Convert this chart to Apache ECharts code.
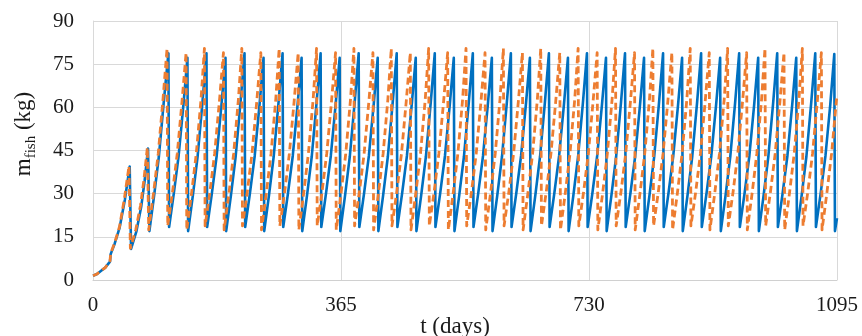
<!DOCTYPE html>
<html>
<head>
<meta charset="utf-8">
<script src="https://cdn.jsdelivr.net/npm/echarts@6/dist/echarts.min.js"></script>
<style>
html,body{margin:0;padding:0;background:#fff;}
#chart{width:862px;height:336px;}
</style>
</head>
<body>
<div id="chart"></div>
<script>
// x ticks (days) and y ticks (kg)
const xTicks = [0, 365, 730, 1095];
const yTicks = [0, 15, 30, 45, 60, 75, 90];

// blue solid series: [day, mass kg]
const blueSeries = [
  [0,1.5],[6,2.1],[12,3.2],[18,4.3],[25,6.4],[26,9.0],[32,12.7],[39,18.0],[47,28.0],[54,39.4],
  [56,10.8],[64,17.0],[71,25.5],[76,34.5],[81,45.7],
  [83,17.0],[90,29.4],[97,43.0],[104,61.5],[111,78.8],
  [112,18.4],[119,30.2],[126,43.1],[133,60.7],[139,77.2],
  [140,17.0],[147,29.4],[154,43.0],[161,61.5],[167,78.8],
  [168,18.4],[175,30.2],[182,43.1],[189,60.7],[195,77.2],
  [196,17.0],[203,29.4],[210,43.0],[217,61.5],[223,78.8],
  [224,18.4],[231,30.2],[238,43.1],[245,60.7],[251,77.2],
  [252,17.0],[259,29.4],[266,43.0],[273,61.5],[279,78.8],
  [280,18.4],[287,30.2],[294,43.1],[301,60.7],[307,77.2],
  [308,17.0],[315,29.4],[322,43.0],[329,61.5],[335,78.8],
  [336,18.4],[343,30.2],[350,43.1],[357,60.7],[363,77.2],
  [364,17.0],[371,29.4],[378,43.0],[385,61.5],[391,78.8],
  [392,18.4],[399,30.2],[406,43.1],[413,60.7],[419,77.2],
  [420,17.0],[427,29.4],[434,43.0],[441,61.5],[447,78.8],
  [448,18.4],[455,30.2],[462,43.1],[469,60.7],[475,77.2],
  [476,17.0],[483,29.4],[490,43.0],[497,61.5],[503,78.8],
  [504,18.4],[511,30.2],[518,43.1],[525,60.7],[531,77.2],
  [532,17.0],[539,29.4],[546,43.0],[553,61.5],[559,78.8],
  [560,18.4],[567,30.2],[574,43.1],[581,60.7],[587,77.2],
  [588,17.0],[595,29.4],[602,43.0],[609,61.5],[615,78.8],
  [616,18.4],[623,30.2],[630,43.1],[637,60.7],[643,77.2],
  [644,17.0],[651,29.4],[658,43.0],[665,61.5],[671,78.8],
  [672,18.4],[679,30.2],[686,43.1],[693,60.7],[699,77.2],
  [700,17.0],[707,29.4],[714,43.0],[721,61.5],[727,78.8],
  [728,18.4],[735,30.2],[742,43.1],[749,60.7],[755,77.2],
  [756,17.0],[763,29.4],[770,43.0],[777,61.5],[783,78.8],
  [784,18.4],[791,30.2],[798,43.1],[805,60.7],[811,77.2],
  [812,17.0],[819,29.4],[826,43.0],[833,61.5],[839,78.8],
  [840,18.4],[847,30.2],[854,43.1],[861,60.7],[867,77.2],
  [868,17.0],[875,29.4],[882,43.0],[889,61.5],[895,78.8],
  [896,18.4],[903,30.2],[910,43.1],[917,60.7],[923,77.2],
  [924,17.0],[931,29.4],[938,43.0],[945,61.5],[951,78.8],
  [952,18.4],[959,30.2],[966,43.1],[973,60.7],[979,77.2],
  [980,17.0],[987,29.4],[994,43.0],[1001,61.5],[1007,78.8],
  [1008,18.4],[1015,30.2],[1022,43.1],[1029,60.7],[1035,77.2],
  [1036,17.0],[1043,29.4],[1050,43.0],[1057,61.5],[1063,78.8],
  [1064,18.4],[1071,30.2],[1078,43.1],[1085,60.7],[1091,78.5],
  [1092,17.0],[1095,21.5]
];

// orange dashed series: [day, mass kg]
const orangeSeries = [
  [0,1.5],[6,2.1],[12,3.2],[18,4.3],[25,6.6],[26,9.2],[32,13.0],[39,18.5],[46,28.0],[53,39.6],
  [55,11.0],[63,17.5],[70,26.0],[75,35.0],[80,46.0],
  [82,17.4],[89,30.0],[96,43.9],[103,62.8],[109,80.5],
  [110,18.8],[117,30.5],[124,43.9],[131,62.0],[137,79.0],
  [138,17.4],[145,30.0],[152,43.9],[159,62.8],[164,80.5],
  [165,18.8],[172,30.5],[179,43.9],[186,62.0],[192,79.0],
  [193,17.4],[200,30.0],[207,43.9],[214,62.8],[219,80.5],
  [220,18.8],[227,30.5],[234,43.9],[241,62.0],[247,79.0],
  [248,17.4],[255,30.0],[262,43.9],[269,62.8],[274,80.5],
  [275,18.8],[282,30.5],[289,43.9],[296,62.0],[302,79.0],
  [303,17.4],[310,30.0],[317,43.9],[324,62.8],[329,80.5],
  [330,18.8],[337,30.5],[344,43.9],[351,62.0],[357,79.0],
  [358,17.4],[365,30.0],[372,43.9],[379,62.8],[384,80.5],
  [385,18.8],[392,30.5],[399,43.9],[406,62.0],[412,79.0],
  [413,17.4],[420,30.0],[427,43.9],[434,62.8],[439,80.5],
  [440,18.8],[447,30.5],[454,43.9],[461,62.0],[467,79.0],
  [468,17.4],[475,30.0],[482,43.9],[489,62.8],[494,80.5],
  [495,18.8],[502,30.5],[509,43.9],[516,62.0],[522,79.0],
  [523,17.4],[530,30.0],[537,43.9],[544,62.8],[549,80.5],
  [550,18.8],[557,30.5],[564,43.9],[571,62.0],[577,79.0],
  [578,17.4],[585,30.0],[592,43.9],[599,62.8],[604,80.5],
  [605,18.8],[612,30.5],[619,43.9],[626,62.0],[632,79.0],
  [633,17.4],[640,30.0],[647,43.9],[654,62.8],[659,80.5],
  [660,18.8],[667,30.5],[674,43.9],[681,62.0],[687,79.0],
  [688,17.4],[695,30.0],[702,43.9],[709,62.8],[714,80.5],
  [715,18.8],[722,30.5],[729,43.9],[736,62.0],[742,79.0],
  [743,17.4],[750,30.0],[757,43.9],[764,62.8],[769,80.5],
  [770,18.8],[777,30.5],[784,43.9],[791,62.0],[797,79.0],
  [798,17.4],[805,30.0],[812,43.9],[819,62.8],[824,80.5],
  [825,18.8],[832,30.5],[839,43.9],[846,62.0],[852,79.0],
  [853,17.4],[860,30.0],[867,43.9],[874,62.8],[879,80.5],
  [880,18.8],[887,30.5],[894,43.9],[901,62.0],[907,79.0],
  [908,17.4],[915,30.0],[922,43.9],[929,62.8],[934,80.5],
  [935,18.8],[942,30.5],[949,43.9],[956,62.0],[962,79.0],
  [963,17.4],[970,30.0],[977,43.9],[984,62.8],[989,80.5],
  [990,18.8],[997,30.5],[1004,43.9],[1011,62.0],[1017,79.0],
  [1018,17.4],[1025,30.0],[1032,43.9],[1039,62.8],[1044,80.5],
  [1045,18.8],[1052,30.5],[1059,43.9],[1066,62.0],[1072,79.0],
  [1073,17.4],[1080,30.0],[1087,43.9],[1094,62.0],[1095,64.0]
];

const FONT = '"Liberation Serif", "DejaVu Serif", serif';
const chart = echarts.init(document.getElementById('chart'), null, {renderer: 'canvas'});
chart.setOption({
  animation: false,
  backgroundColor: '#ffffff',
  grid: {left: 93, right: 25, top: 21, bottom: 56, containLabel: false},
  xAxis: {
    type: 'value', min: xTicks[0], max: xTicks[xTicks.length - 1], interval: 365,
    axisLine: {show: true, lineStyle: {color: '#d0d0d0', width: 1}},
    axisTick: {show: false},
    splitLine: {show: true, lineStyle: {color: '#d9d9d9', width: 1}},
    axisLabel: {color: '#1a1a1a', fontFamily: FONT, fontSize: 21, margin: 15,
      formatter: v => xTicks.indexOf(v) >= 0 ? String(v) : ''}
  },
  yAxis: {
    type: 'value', min: yTicks[0], max: yTicks[yTicks.length - 1], interval: 15,
    axisLine: {show: true, lineStyle: {color: '#d9d9d9', width: 1}},
    axisTick: {show: false},
    splitLine: {show: true, lineStyle: {color: '#d9d9d9', width: 1}},
    axisLabel: {color: '#1a1a1a', fontFamily: FONT, fontSize: 21, margin: 19}
  },
  graphic: [
    {type: 'text', x: 455, y: 327, style: {text: 't (days)', font: '23px ' + FONT, fill: '#1a1a1a', align: 'center', verticalAlign: 'middle'}},
    {type: 'text', x: 24, y: 134, rotation: Math.PI / 2,
      style: {text: '{a|m}{b|fish}{a| (kg)}', align: 'center', verticalAlign: 'middle', fill: '#1a1a1a',
        rich: {
          a: {fontFamily: FONT, fontSize: 23, lineHeight: 30, verticalAlign: 'middle', fill: '#1a1a1a'},
          b: {fontFamily: FONT, fontSize: 15, lineHeight: 15, verticalAlign: 'bottom', fill: '#1a1a1a'}
        }}}
  ],
  series: [
    {name: 'm_fish 1', type: 'line', data: blueSeries, showSymbol: false, symbol: 'none',
      lineStyle: {color: '#0070c0', width: 2.6, join: 'round'}, z: 2},
    {name: 'm_fish 2', type: 'line', data: orangeSeries, showSymbol: false, symbol: 'none',
      lineStyle: {color: '#ed7d31', width: 2.8, type: [7, 4], join: 'round'}, z: 3}
  ]
});
</script>
</body>
</html>
